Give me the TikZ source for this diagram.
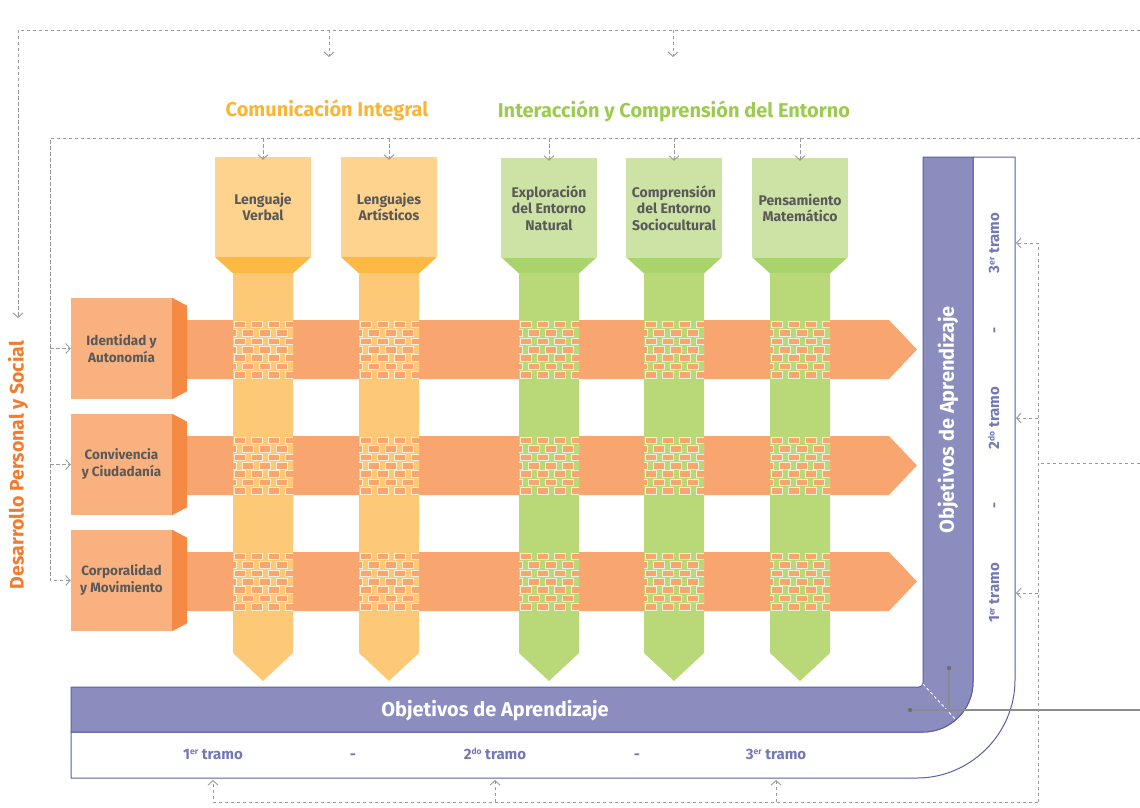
\documentclass[tikz,border=0pt]{standalone}
\usepackage{fontspec}
\setmainfont{Fira Sans}
\usetikzlibrary{arrows.meta}
\definecolor{ylight}{HTML}{FDD38E}
\definecolor{ydark}{HTML}{FCBA45}
\definecolor{yshaft}{HTML}{FDC977}
\definecolor{glight}{HTML}{CDE3A5}
\definecolor{gdark}{HTML}{A9D46C}
\definecolor{gshaft}{HTML}{B9D878}
\definecolor{obox}{HTML}{F8B17F}
\definecolor{oside}{HTML}{F58A45}
\definecolor{bandc}{HTML}{F8A570}
\definecolor{purp}{HTML}{8A8DBE}
\definecolor{purpline}{HTML}{5960A6}
\definecolor{tgray}{HTML}{595959}
\definecolor{tramoc}{HTML}{7378B5}
\definecolor{dgray}{HTML}{9A9A9A}
\definecolor{sgray}{HTML}{8C8C8C}
\definecolor{ctitle}{HTML}{FBB535}
\definecolor{gtitle}{HTML}{9CCB4F}
\definecolor{otitle}{HTML}{F47A2D}
\newcommand\supsm[1]{\raisebox{4.5pt}{\fontsize{8.5}{9}\selectfont #1}}
\newcommand\weaveat[3]{%
  \begin{scope}
    \clip (#1-30,#2) rectangle (#1+30,#2+59);
    \fill[#3] (#1-30,#2) rectangle (#1+30,#2+59);
    \foreach \rr in {0,...,6}{
      \pgfmathsetmacro\yy{#2+0.9+\rr*8.4}
      \pgfmathsetmacro\xs{mod(\rr,2)==0 ? #1-29 : #1-37.5}
      \foreach \kk in {0,...,4}{
        \filldraw[fill=bandc, draw=white!70!#3, line width=0.4pt] (\xs+\kk*17,\yy) rectangle ++(11,6.6);
      }
    }
  \end{scope}}
\begin{document}
\begin{tikzpicture}[x=1pt,y=-1pt,
  headbox/.style={minimum width=96pt, minimum height=100pt, inner sep=0pt, align=center,
    text=tgray, font=\bfseries\fontsize{14}{16.5}\selectfont},
  leftbox/.style={fill=obox, minimum width=101pt, minimum height=101pt, inner sep=0pt, align=center,
    text=tgray, font=\bfseries\fontsize{13.5}{17}\selectfont},
  dsh/.style={draw=dgray, line width=0.9pt, dash pattern=on 3.5pt off 2.5pt},
  tip/.style={-{Straight Barb[length=4.5pt,width=10pt,line width=0.9pt]}},
  tramo/.style={text=tramoc, font=\bfseries\fontsize{15}{17}\selectfont, inner sep=1pt,
    text height=11pt, text depth=3pt},
  objt/.style={text=white, font=\bfseries\fontsize{20}{23}\selectfont, inner sep=1pt},
  title/.style={font=\bfseries\fontsize{20}{23}\selectfont, inner sep=1pt}
]
\useasboundingbox (0,0) rectangle (1140,808);

% ---------- titles ----------
\node[title, text=ctitle] (ci) at (327,110) {Comunicación Integral};
\node[title, text=gtitle] (ice) at (674,111) {Interacción y Comprensión del Entorno};
\node[title, text=otitle, rotate=90, font=\bfseries\fontsize{19.5}{22}\selectfont] (dps) at (18,465) {Desarrollo Personal y Social};

% ---------- shafts ----------
\foreach \cx/\cd/\cs in {263/ydark/yshaft, 389/ydark/yshaft, 549/gdark/gshaft, 674/gdark/gshaft, 800/gdark/gshaft}{
  \fill[\cd] (\cx-48,257) -- (\cx+48,257) -- (\cx+30.5,273) -- (\cx-30.5,273) -- cycle;
  \fill[\cs] (\cx-30,273) -- (\cx+30,273) -- (\cx+30,653) -- (\cx,681) -- (\cx-30,653) -- cycle;
}

% ---------- bands ----------
\foreach \yo in {320,436,552}{
  \fill[bandc] (172,\yo) -- (889,\yo) -- (917,\yo+29.5) -- (889,\yo+59) -- (172,\yo+59) -- cycle;
}

% ---------- weaves ----------
\foreach \yo in {320,436,552}{
  \weaveat{263}{\yo}{yshaft}
  \weaveat{389}{\yo}{yshaft}
  \weaveat{549}{\yo}{gshaft}
  \weaveat{674}{\yo}{gshaft}
  \weaveat{800}{\yo}{gshaft}
}

% ---------- column heads ----------
\node[headbox, fill=ylight] (lv) at (263,207) {Lenguaje\\Verbal};
\node[headbox, fill=ylight] (la) at (389,207) {Lenguajes\\Artísticos};
\node[headbox, fill=glight] (ex) at (549,208) {Exploración\\del Entorno\\Natural};
\node[headbox, fill=glight] (cs) at (674,208) {Comprensión\\del Entorno\\Sociocultural};
\node[headbox, fill=glight] (pm) at (800,208) {Pensamiento\\Matemático};

% ---------- left boxes ----------
\node[leftbox] (ia) at (121.5,348.5) {Identidad y\\Autonomía};
\node[leftbox] (cc) at (121.5,464.5) {Convivencia\\y Ciudadanía};
\node[leftbox] (cm) at (121.5,580.5) {Corporalidad\\y Movimiento};
\foreach \bx in {ia,cc,cm}{
  \fill[oside] (\bx.north east) -- ++(15,8) -- ([shift={(15,-8)}]\bx.south east) -- (\bx.south east) -- cycle;
}

% ---------- Objetivos L-shape ----------
\filldraw[fill=white, draw=purpline, line width=1pt]
  (71,732) -- (71,778) -- (917,778) .. controls (970.6,778) and (1015,733.6) .. (1015,680)
  -- (1015,157) -- (973,157) -- (973,682) .. controls (973,709.6) and (950.6,732) .. (923,732) -- cycle;
\filldraw[fill=purp, draw=purpline, line width=1pt]
  (71,687) -- (919,687) .. controls (921.2,687) and (923,685.2) .. (923,683) -- (923,157) -- (973,157)
  -- (973,682) .. controls (973,709.6) and (950.6,732) .. (923,732) -- (71,732) -- cycle;
\draw[white, line width=0.9pt, dash pattern=on 3pt off 2.5pt] (923,684) -- (956,720);

\node[objt] (oab) at (495,711) {Objetivos de Aprendizaje};
\node[objt, rotate=90] (oav) at (948,420) {Objetivos de Aprendizaje};

\node[tramo] (t1) at (213,755) {1\supsm{er} tramo};
\node[tramo] (d1) at (353,755) {-};
\node[tramo] (t2) at (495,755) {2\supsm{do} tramo};
\node[tramo] (d2) at (637,755) {-};
\node[tramo] (t3) at (776,755) {3\supsm{er} tramo};

\node[tramo, rotate=90] (v3) at (995,243) {3\supsm{er} tramo};
\node[tramo, rotate=90] (vd2) at (995,330) {-};
\node[tramo, rotate=90] (v2) at (995,418) {2\supsm{do} tramo};
\node[tramo, rotate=90] (vd1) at (995,505) {-};
\node[tramo, rotate=90] (v1) at (995,593) {1\supsm{er} tramo};

% ---------- gray solid lines ----------
\coordinate (g1) at (910,710);
\coordinate (g2) at (949,668);
\coordinate (g3) at (949,710);
\coordinate (g4) at (1140,710);
\draw[sgray, line width=1.2pt] (g1) -- (g4);
\draw[sgray, line width=1.2pt] (g2) -- (g3);
\fill[sgray!80!black] (g1) circle (2.2pt) (g2) circle (2.2pt);

% ---------- dashed connectors ----------
\coordinate (o1) at (1140,30);
\coordinate (o2) at (18,30);
\coordinate (o3) at (18,318);
\draw[dsh, tip] (o1) -- (o2) -- (o3);
\draw[dsh, tip] (329,30) -- (329,57);
\draw[dsh, tip] (673,30) -- (673,57);

\coordinate (i1) at (1140,138);
\coordinate (i2) at (50,138);
\coordinate (i3) at (50,580.5);
\draw[dsh, tip] (i1) -- (i2) -- (i3) -- (cm.west);
\draw[dsh, tip] (50,348.5) -- (ia.west);
\draw[dsh, tip] (50,464.5) -- (cc.west);
\foreach \nd in {lv,la,ex,cs,pm}{
  \draw[dsh, tip] (\nd.north |- i1) -- ([yshift=-3pt]\nd.north);
}

\coordinate (r0) at (1140,463);
\coordinate (r1) at (1038,463);
\coordinate (rt) at (1038,243);
\coordinate (rb) at (1038,802);
\coordinate (bl) at (213,802);
\draw[dsh] (r0) -- (r1);
\draw[dsh, tip] (rb) -- (rt) -- (1016,243);
\draw[dsh, tip] (1038,418) -- (1016,418);
\draw[dsh, tip] (1038,593) -- (1016,593);
\draw[dsh, tip] (rb) -- (bl) -- (213,780);
\draw[dsh, tip] (495,802) -- (495,780);
\draw[dsh, tip] (776,802) -- (776,780);
\end{tikzpicture}
\end{document}
